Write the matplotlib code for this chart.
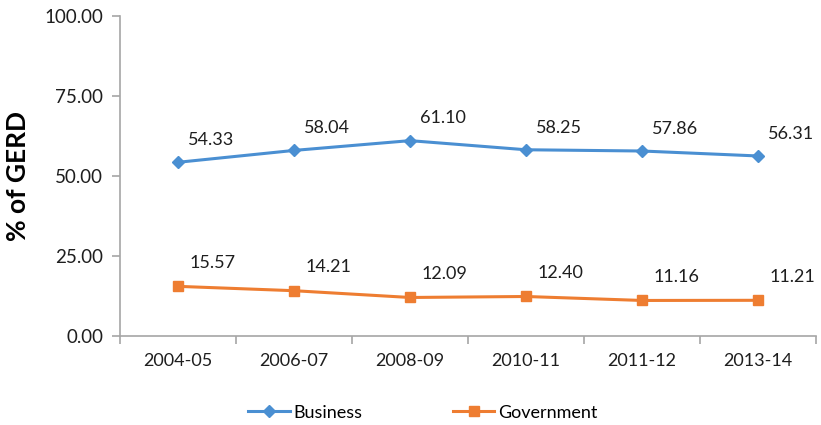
import numpy as np
import matplotlib.pyplot as plt

plt.rcParams['font.family'] = ['Lato', 'DejaVu Sans']

years = ['2004-05', '2006-07', '2008-09', '2010-11', '2011-12', '2013-14']
business = [54.33, 58.04, 61.10, 58.25, 57.86, 56.31]
government = [15.57, 14.21, 12.09, 12.40, 11.16, 11.21]

blue = '#4a8fd2'
orange = '#ee7d31'
grey = '#a6a6a6'
txt = '#1e1e1e'

fig = plt.figure(figsize=(8.21, 4.25), dpi=100)
ax = fig.add_axes([0.146, 0.209, 0.848, 0.753])

x = np.arange(len(years))
ax.plot(x, business, color=blue, lw=2.2, marker='D', ms=6, label='Business')
ax.plot(x, government, color=orange, lw=2.2, marker='s', ms=7, label='Government')

# value labels above and to the right of each point
for xi, v in zip(x, business):
    ax.annotate(f'{v:.2f}', (xi, v), xytext=(24, 16), textcoords='offset points',
                ha='center', va='center', fontsize=13, color=txt)
for xi, v in zip(x, government):
    ax.annotate(f'{v:.2f}', (xi, v), xytext=(25, 17), textcoords='offset points',
                ha='center', va='center', fontsize=13, color=txt)

ax.set_xlim(-0.5, len(years) - 0.5)
ax.set_ylim(0, 100)
ax.set_yticks([0, 25, 50, 75, 100])
ax.set_yticklabels([f'{t:.2f}' for t in [0, 25, 50, 75, 100]])
ax.set_xticks(x)
ax.set_xticklabels(years)
ax.set_xticks(np.arange(-0.5, len(years)), minor=True)
ax.tick_params(axis='x', which='major', length=0, pad=12, labelsize=13, labelcolor=txt)
ax.tick_params(axis='x', which='minor', length=6, color=grey, width=1.2)
ax.tick_params(axis='y', length=6, color=grey, width=1.2, pad=6, labelsize=13.5, labelcolor=txt)

for s in ['top', 'right']:
    ax.spines[s].set_visible(False)
for s in ['left', 'bottom']:
    ax.spines[s].set_color(grey)
    ax.spines[s].set_linewidth(1.2)

ax.set_ylabel('% of GERD', fontsize=19, fontweight='bold', labelpad=10)

fig.legend(loc='lower center', bbox_to_anchor=(0.515, -0.028), ncol=2, frameon=False,
           fontsize=13, handlelength=2.3, columnspacing=5, handletextpad=0.2)

fig.savefig('out.png', dpi=100)
